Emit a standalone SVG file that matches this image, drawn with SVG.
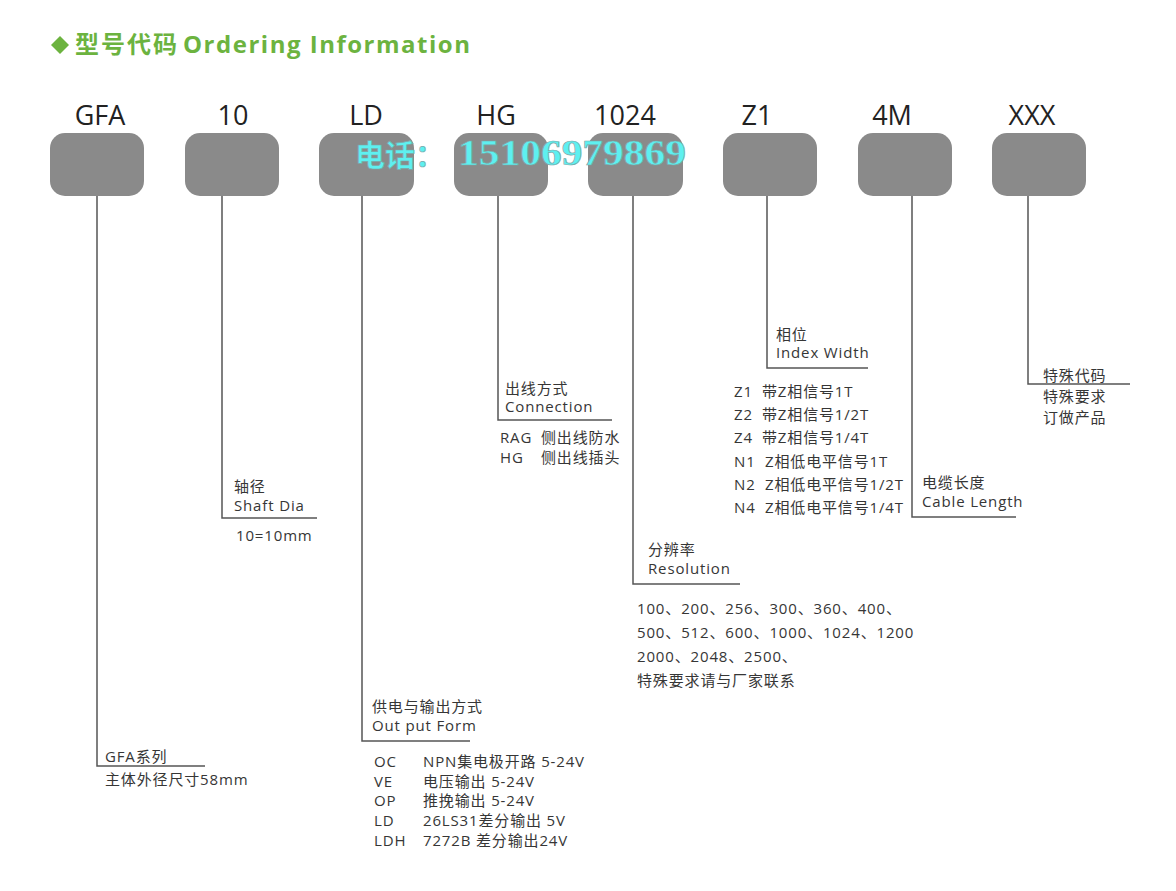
<svg xmlns="http://www.w3.org/2000/svg" width="1176" height="891" viewBox="0 0 1176 891">
<style>
.t{font-family:"Open Sans","Noto Sans CJK SC",sans-serif;font-size:15px;fill:#363636;letter-spacing:0.85px}
.lbl{font-family:"Open Sans","Noto Sans CJK SC",sans-serif;font-size:27px;fill:#222;text-anchor:middle}
.box{fill:#8a8a8a}
.ln{stroke:#555;stroke-width:1.5;fill:none}
.title{font-family:"Open Sans","Noto Sans CJK SC",sans-serif;font-weight:bold;font-size:24px;fill:#6cb33f}
.wm{font-weight:bold;fill:#5ef0f0;stroke:#7aa8a8;stroke-width:0.7}
</style>
<rect width="1176" height="891" fill="#ffffff"/>
<g id="title">
<polygon points="60,36 69,45 60,54 51,45" fill="#6cb33f"/>
<text class="title" x="75" y="53" letter-spacing="2">型号代码</text>
<text class="title" x="183" y="53" textLength="287" lengthAdjust="spacing">Ordering Information</text>
</g>
<g id="connectors">
<polyline class="ln" points="97,196 97,766 205,766"/>
<polyline class="ln" points="222,196 222,518 317,518"/>
<polyline class="ln" points="362,196 362,741 470,741"/>
<polyline class="ln" points="498,196 498,420 612,420"/>
<polyline class="ln" points="633,196 633,584 740,584"/>
<polyline class="ln" points="767,196 767,368 868,368"/>
<polyline class="ln" points="912,196 912,517 1016,517"/>
<polyline class="ln" points="1028,196 1028,384 1130,384"/>
</g>
<g id="node-gfa">
<text class="lbl" x="100" y="125">GFA</text>
<rect class="box" x="50" y="133" width="94" height="63" rx="15"/>
<text class="t" x="105" y="762">GFA系列</text>
<text class="t" x="105" y="785">主体外径尺寸58mm</text>
</g>
<g id="node-10">
<text class="lbl" x="233" y="125">10</text>
<rect class="box" x="185" y="133" width="94" height="63" rx="15"/>
<text class="t" x="234" y="492">轴径</text>
<text class="t" x="234" y="511">Shaft Dia</text>
<text class="t" x="236" y="541">10=10mm</text>
</g>
<g id="node-ld">
<text class="lbl" x="366" y="125">LD</text>
<rect class="box" x="319" y="133" width="95" height="63" rx="15"/>
<text class="t" x="372" y="712">供电与输出方式</text>
<text class="t" x="372" y="731">Out put Form</text>
<text class="t" x="374" y="767">OC</text><text class="t" x="423" y="767">NPN集电极开路 5-24V</text>
<text class="t" x="374" y="787">VE</text><text class="t" x="423" y="787">电压输出 5-24V</text>
<text class="t" x="374" y="806">OP</text><text class="t" x="423" y="806">推挽输出 5-24V</text>
<text class="t" x="374" y="826">LD</text><text class="t" x="423" y="826">26LS31差分输出 5V</text>
<text class="t" x="374" y="846">LDH</text><text class="t" x="423" y="846">7272B 差分输出24V</text>
</g>
<g id="node-hg">
<text class="lbl" x="496" y="125">HG</text>
<rect class="box" x="454" y="133" width="94" height="63" rx="15"/>
<text class="t" x="505" y="394">出线方式</text>
<text class="t" x="505" y="412">Connection</text>
<text class="t" x="500" y="443">RAG</text><text class="t" x="541" y="443">侧出线防水</text>
<text class="t" x="500" y="463">HG</text><text class="t" x="541" y="463">侧出线插头</text>
</g>
<g id="node-1024">
<text class="lbl" x="625" y="125">1024</text>
<rect class="box" x="588" y="133" width="95" height="63" rx="15"/>
<text class="t" x="648" y="555">分辨率</text>
<text class="t" x="648" y="574">Resolution</text>
<text class="t" x="637" y="614">100、200、256、300、360、400、</text>
<text class="t" x="637" y="638">500、512、600、1000、1024、1200</text>
<text class="t" x="637" y="662">2000、2048、2500、</text>
<text class="t" x="637" y="686">特殊要求请与厂家联系</text>
</g>
<g id="node-z1">
<text class="lbl" x="757" y="125">Z1</text>
<rect class="box" x="723" y="133" width="94" height="63" rx="15"/>
<text class="t" x="776" y="340">相位</text>
<text class="t" x="776" y="358">Index Width</text>
<text class="t" x="734" y="397">Z1</text><text class="t" x="762" y="397">带Z相信号1T</text>
<text class="t" x="734" y="420">Z2</text><text class="t" x="762" y="420">带Z相信号1/2T</text>
<text class="t" x="734" y="443">Z4</text><text class="t" x="762" y="443">带Z相信号1/4T</text>
<text class="t" x="734" y="467">N1</text><text class="t" x="765" y="467">Z相低电平信号1T</text>
<text class="t" x="734" y="490">N2</text><text class="t" x="765" y="490">Z相低电平信号1/2T</text>
<text class="t" x="734" y="513">N4</text><text class="t" x="765" y="513">Z相低电平信号1/4T</text>
</g>
<g id="node-4m">
<text class="lbl" x="892" y="125">4M</text>
<rect class="box" x="858" y="133" width="94" height="63" rx="15"/>
<text class="t" x="922" y="488">电缆长度</text>
<text class="t" x="922" y="507">Cable Length</text>
</g>
<g id="node-xxx">
<text class="lbl" x="1032" y="125">XXX</text>
<rect class="box" x="992" y="133" width="94" height="63" rx="15"/>
<text class="t" x="1043" y="381">特殊代码</text>
<text class="t" x="1043" y="402">特殊要求</text>
<text class="t" x="1043" y="423">订做产品</text>
</g>
<g id="watermark">
<text class="wm" x="355" y="166" font-family="'Noto Sans CJK SC',sans-serif" font-size="30" font-weight="normal">电话：</text>
<text class="wm" x="458" y="165" font-family="'Liberation Serif',serif" font-size="36" textLength="228" lengthAdjust="spacingAndGlyphs">15106979869</text>
</g>
</svg>
